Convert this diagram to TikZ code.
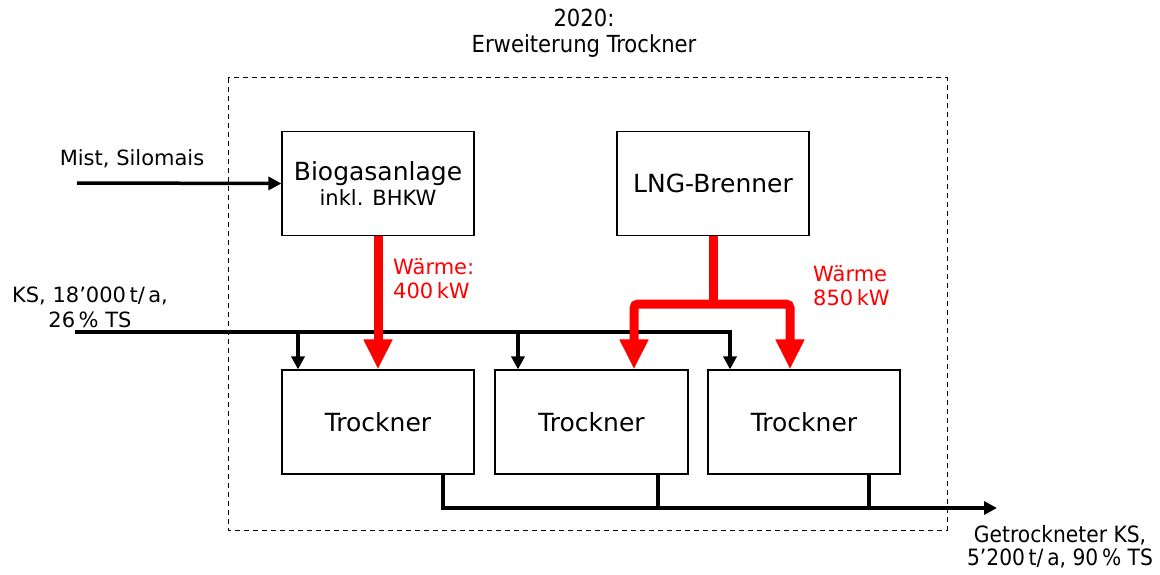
\documentclass[tikz,border=0pt]{standalone}
\usepackage{fontspec}
\setmainfont{DejaVu Sans}
\newfontfamily\condfont{DejaVu Sans Condensed}
\usetikzlibrary{arrows.meta}
\begin{document}
\begin{tikzpicture}[x=1pt,y=-1pt,
  box/.style={draw, line width=1.2pt, minimum width=192pt, minimum height=104pt, inner sep=0pt, align=center},
  big/.style={font=\fontsize{25}{30}\selectfont},
  small/.style={font=\fontsize{21}{25}\selectfont},
  cond/.style={font=\condfont\fontsize{23.5}{26}\selectfont, align=center},
  flow/.style={line width=3.5pt, -{Triangle[width=13pt,length=13pt]}},
  flowline/.style={line width=3.5pt},
  heat/.style={red, line width=9pt, -{Triangle[width=27pt,length=30pt]}},
  heatlabel/.style={red, font=\fontsize{21}{24}\selectfont, align=left, anchor=north west, inner sep=0pt}
]
\useasboundingbox (0,0) rectangle (1160,575);
% system boundary
\draw[line width=1pt, dash pattern=on 5pt off 4pt] (228,78) rectangle (947,530);
\node[cond] (title) at (584,33) {2020:\\Erweiterung Trockner};
% boxes
\node[box] (bio) at (378,183.5) {\fontsize{25}{30}\selectfont Biogasanlage\\[2pt]\fontsize{21}{25}\selectfont inkl. BHKW};
\node[box, big] (lng) at (713,183.5) {LNG-Brenner};
\node[box, big] (tr1) at (378,422) {Trockner};
\node[box, big, minimum width=193pt] (tr2) at (591.5,422) {Trockner};
\node[box, big] (tr3) at (804,422) {Trockner};
% input Mist
\coordinate (mistin) at (77,183);
\node[small, anchor=south] (mistlbl) at (132,171) {Mist, Silomais};
\draw[flow] (mistin) -- (bio.west);
% KS input
\coordinate (ksin) at (75,332);
\node[small, align=center, anchor=south, inner sep=0pt] (kslbl) at (90,328) {KS, 18’000\,t/\,a,\\26\,\%\ TS};
\draw[flowline] (ksin) -- (730,332);
\draw[flow] (730,330.25) -- (tr3.north -| 730,0);
\draw[flow] (298,332) -- (tr1.north -| 298,0);
\draw[flow] (518,332) -- (tr2.north -| 518,0);
% heat biogas
\draw[heat] (bio.south) -- (tr1.north);
\node[heatlabel] (w1) at (393,258) {Wärme:\\400\,kW};
% heat LNG
\draw[red, line width=9pt] (lng.south) -- (713,307);
\draw[red, line width=9pt, rounded corners=4pt, {Triangle[width=27pt,length=30pt]}-{Triangle[width=27pt,length=30pt]}]
  (tr2.north -| 634,0) -- (634,304) -- (790,304) -- (tr3.north -| 790,0);
\node[heatlabel] (w2) at (813,265) {Wärme\\850\,kW};
% output
\coordinate (out) at (997,508);
\draw[flow] (tr1.south -| 443,0) -- (443,508) -- (out);
\draw[flowline] (tr2.south -| 658,0) -- (658,509.75);
\draw[flowline] (tr3.south -| 869,0) -- (869,509.75);
\node[anchor=north, inner sep=0pt, align=center, font=\condfont\fontsize{22.5}{23.5}\selectfont] (outlbl) at (1060,525) {Getrockneter KS,\\5’200\,t/\,a, 90\,\%\ TS};
\end{tikzpicture}
\end{document}
